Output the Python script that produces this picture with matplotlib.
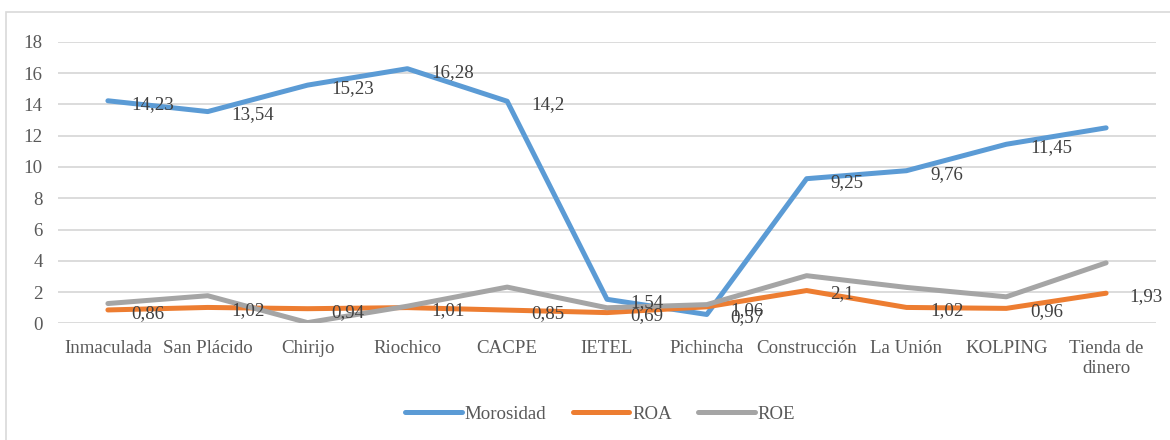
import matplotlib.pyplot as plt
from matplotlib.patches import Rectangle

entidades = ["Inmaculada", "San Plácido", "Chirijo", "Riochico", "CACPE", "IETEL",
             "Pichincha", "Construcción", "La Unión", "KOLPING", "Tienda de\ndinero"]
morosidad = [14.23, 13.54, 15.23, 16.28, 14.2, 1.54, 0.57, 9.25, 9.76, 11.45, 12.5]
roa = [0.86, 1.02, 0.94, 1.01, 0.85, 0.69, 1.06, 2.1, 1.02, 0.96, 1.93]
roe = [1.27, 1.77, 0.05, 1.1, 2.32, 1.0, 1.2, 3.05, 2.3, 1.7, 3.87]

# etiquetas que aparecen en el gráfico (la última de morosidad no se muestra)
etiquetas_morosidad = ["14,23", "13,54", "15,23", "16,28", "14,2", "1,54", "0,57",
                       "9,25", "9,76", "11,45", None]
etiquetas_roa = ["0,86", "1,02", "0,94", "1,01", "0,85", "0,69", "1,06", "2,1",
                 "1,02", "0,96", "1,93"]

plt.rcParams['font.family'] = ['Liberation Serif', 'DejaVu Serif']
fs = 13.6

fig = plt.figure(figsize=(11.7, 4.4), dpi=100)
ax = fig.add_axes([58 / 1170, 0.265, (1156 - 58) / 1170, 0.905 - 0.265])

x = list(range(len(entidades)))
lw = 3.6
ax.plot(x, morosidad, color="#5B9BD5", lw=lw, solid_capstyle="round",
        solid_joinstyle="round", label="Morosidad", zorder=3)
ax.plot(x, roa, color="#ED7D31", lw=lw, solid_capstyle="round",
        solid_joinstyle="round", label="ROA", zorder=3)
ax.plot(x, roe, color="#A5A5A5", lw=lw, solid_capstyle="round",
        solid_joinstyle="round", label="ROE", zorder=3)

for xi, yi, t in zip(x, morosidad, etiquetas_morosidad):
    if t:
        ax.annotate(t, (xi, yi), xytext=(17, -2.5), textcoords="offset points",
                    ha="left", va="center", fontsize=fs, color="#404040", zorder=4)
for xi, yi, t in zip(x, roa, etiquetas_roa):
    ax.annotate(t, (xi, yi), xytext=(17, -2.5), textcoords="offset points",
                ha="left", va="center", fontsize=fs, color="#404040", zorder=4)

ax.set_xlim(-0.5, len(entidades) - 0.5)
ax.set_ylim(0, 18)
ax.set_yticks(range(0, 19, 2))
ax.set_xticks(x)
ax.set_xticklabels(entidades, fontsize=fs, color="#595959", linespacing=1.2)
ax.tick_params(axis="y", labelsize=fs, labelcolor="#595959", length=0, pad=11)
ax.tick_params(axis="x", length=0, pad=12)
ax.grid(axis="y", color="#D9D9D9", lw=1.3)
ax.set_axisbelow(True)
for s in ax.spines.values():
    s.set_visible(False)

fig.legend(loc="center", bbox_to_anchor=(0.513, 0.058), ncol=3, frameon=False,
           fontsize=fs, handlelength=3.0, handletextpad=0.15, columnspacing=1.4,
           labelcolor="#595959")

fig.patches.append(Rectangle((6 / 1170, -0.05), 1.1, 1 - 12 / 440 + 0.05,
                             transform=fig.transFigure, fill=False,
                             edgecolor="#D9D9D9", lw=1.2))

fig.savefig("out.png", dpi=100)
